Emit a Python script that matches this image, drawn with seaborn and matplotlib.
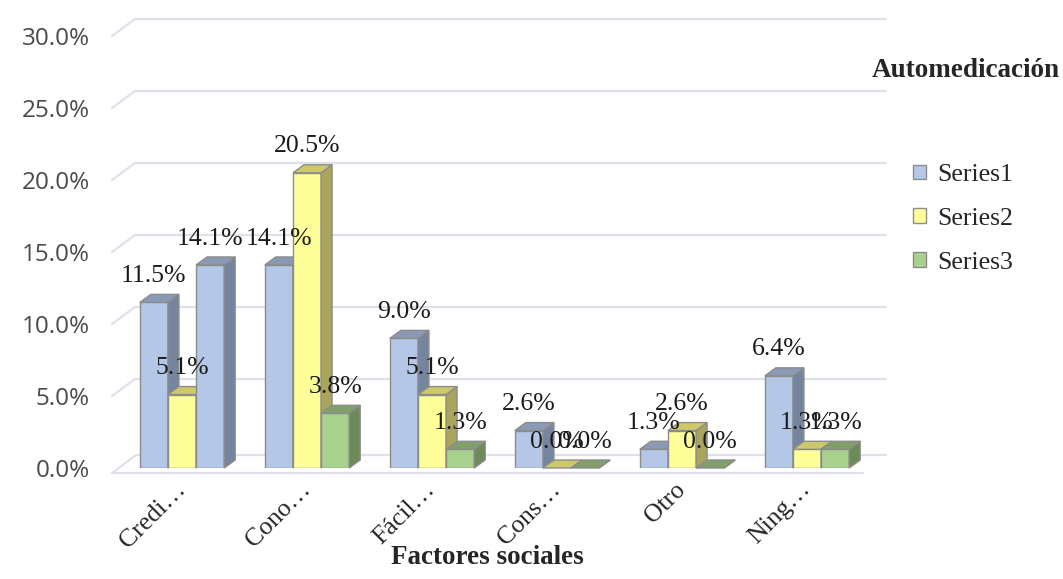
import numpy as np
import pandas as pd
import matplotlib
matplotlib.use("Agg")
import matplotlib.pyplot as plt
import matplotlib.transforms as mtransforms
from matplotlib.patches import Polygon, Patch
from matplotlib.lines import Line2D
import seaborn as sns

# ---- data -------------------------------------------------------------
categories = ["Credi…", "Cono…", "Fácil…", "Cons…", "Otro", "Ning…"]
series_names = ["Series1", "Series2", "Series3"]
series1 = [11.5, 14.1, 9.0, 2.6, 1.3, 6.4]
series2 = [5.1, 20.5, 5.1, 0.0, 2.6, 1.3]
series3 = [14.1, 3.8, 1.3, 0.0, 0.0, 1.3]
y_ticks = [0, 5, 10, 15, 20, 25, 30]
x_title = "Factores sociales"
legend_title = "Automedicación"

# ---- style ------------------------------------------------------------
sns.set_style("white")
plt.rcParams["font.family"] = ["Liberation Serif", "DejaVu Serif"]

face = {"Series1": "#B4C7E7", "Series2": "#FFFF99", "Series3": "#A9D18E"}
side = {"Series1": "#76859F", "Series2": "#AAA55C", "Series3": "#6C8B58"}
top = {"Series1": "#8A9AB5", "Series2": "#CDC86A", "Series3": "#809F6A"}
edge = "#8C8C8C"
grid_col = "#DCE1EA"
# (category index, series index) -> series whose colours fill that bar
recolor = {(0, 2): "Series1"}

DEPTH_X, DEPTH_Y = 11, 8        # bar extrusion, pixels
WALL_X, WALL_Y = 23, 17         # back-wall offset of the gridlines, pixels
FS = 18.5

df = pd.DataFrame({
    "categoria": categories * len(series_names),
    "serie": np.repeat(series_names, len(categories)),
    "valor": series1 + series2 + series3,
})

W, H = 1063, 579
fig = plt.figure(figsize=(W / 100, H / 100), dpi=100)


def px_box(left, right, bottom, top_):
    return [left / W, 1 - bottom / H, (right - left) / W, (bottom - top_) / H]


ax = fig.add_axes(px_box(112, 863, 468, 36))

sns.barplot(data=df, x="categoria", y="valor", hue="serie",
            order=categories, hue_order=series_names, palette=face,
            saturation=1, width=0.675, edgecolor=edge, linewidth=1,
            legend=False, ax=ax)

ax.set_xlim(-0.56, 5.448)
ax.set_ylim(0, 30)
for sp in ax.spines.values():
    sp.set_visible(False)
ax.grid(False)
ax.set_xlabel("")
ax.set_ylabel("")
ax.set_yticks(y_ticks)
ax.set_yticklabels([f"{t:.1f}%" for t in y_ticks], family="Open Sans",
                   fontsize=17.5, color="#4A4A4A")
ax.tick_params(axis="y", length=0, pad=16)
ax.set_xticks(range(len(categories)))
ax.set_xticklabels(categories, rotation=45, ha="right", va="center",
                   rotation_mode="anchor", fontsize=FS)
ax.tick_params(axis="x", length=0, pad=13)

ident = mtransforms.IdentityTransform()
to_px = ax.transData.transform

# ---- back wall gridlines and floor ------------------------------------
x_left = to_px((ax.get_xlim()[0], 0))[0]
x_right = to_px((ax.get_xlim()[1], 0))[0]
for t in y_ticks[1:]:
    yv = to_px((0, t))[1]
    ax.add_line(Line2D([x_left, x_left + WALL_X, x_right + WALL_X],
                       [yv, yv + WALL_Y, yv + WALL_Y], transform=ident,
                       color=grid_col, lw=1.6, clip_on=False, zorder=0.5))
y0 = to_px((0, 0))[1]
ax.add_line(Line2D([x_right, x_left, x_left + WALL_X + 1, x_right + WALL_X],
                   [y0 - 5, y0 - 5, y0 + 13, y0 + 13], transform=ident,
                   color=grid_col, lw=1.6, clip_on=False, zorder=0.5))

# ---- extruded bars ----------------------------------------------------
bars = []
for si, cont in enumerate(ax.containers):
    for ci, patch in enumerate(cont):
        bars.append((patch.get_x(), si, ci, patch))
bars.sort(key=lambda b: b[0])

for rank, (_, si, ci, patch) in enumerate(bars):
    name = recolor.get((ci, si), series_names[si])
    patch.set_facecolor(face[name])
    z = 2 + rank * 0.01
    patch.set_zorder(z)
    x0, yb = to_px((patch.get_x(), 0))
    x1, yt = to_px((patch.get_x() + patch.get_width(), patch.get_height()))
    top_poly = [(x0, yt), (x0 + DEPTH_X, yt + DEPTH_Y),
                (x1 + DEPTH_X, yt + DEPTH_Y), (x1, yt)]
    side_poly = [(x1, yb), (x1 + DEPTH_X, yb + DEPTH_Y),
                 (x1 + DEPTH_X, yt + DEPTH_Y), (x1, yt)]
    for poly, col in ((side_poly, side[name]), (top_poly, top[name])):
        ax.add_patch(Polygon(poly, closed=True, transform=ident,
                             facecolor=col, edgecolor=edge, lw=1,
                             clip_on=False, zorder=z + 0.005))

# ---- value labels -----------------------------------------------------
for _, si, ci, patch in bars:
    v = patch.get_height()
    ax.annotate(f"{v:.1f}%", xy=(patch.get_x() + patch.get_width() / 2, v),
                xytext=(0, 19), textcoords="offset points", ha="center",
                va="center", fontsize=FS, color="#1A1A1A", zorder=10,
                annotation_clip=False)

# ---- titles and legend ------------------------------------------------
fig.text(487 / W, 1 - 558 / H, x_title, ha="center", va="center",
         fontsize=19.5, fontweight="bold")
fig.text(966 / W, 1 - 70 / H, legend_title, ha="center", va="center",
         fontsize=19.5, fontweight="bold")
handles = [Patch(facecolor=face[s], edgecolor=edge) for s in series_names]
fig.legend(handles, series_names, loc="upper left",
           bbox_to_anchor=(913 / W, 1 - 164 / H), frameon=False, fontsize=FS,
           handlelength=0.5, handleheight=0.5, handletextpad=0.45,
           labelspacing=0.85, borderpad=0, borderaxespad=0)

fig.savefig("out.png", dpi=100)
